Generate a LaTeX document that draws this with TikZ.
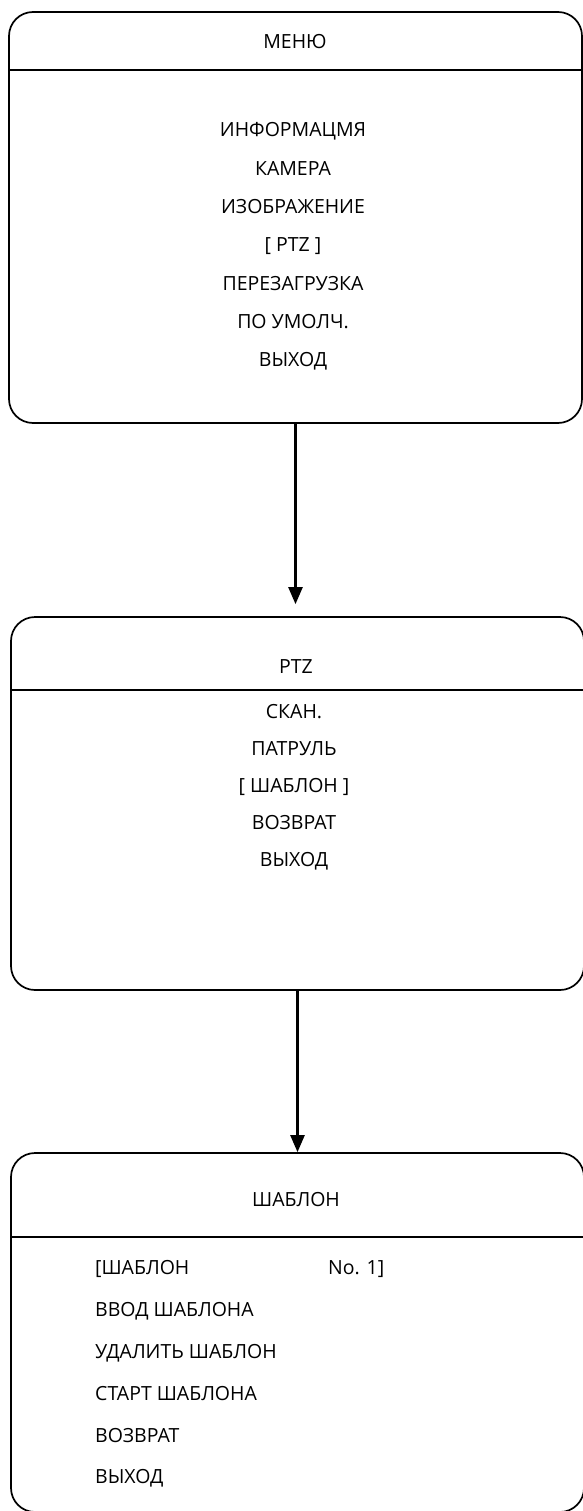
\documentclass[tikz,border=0pt]{standalone}
\usepackage{fontspec}
\setmainfont{Open Sans}
\usepackage{tikz}
\usetikzlibrary{arrows.meta,positioning}
\tikzset{
  frame/.style={draw,line width=1.7pt,rounded corners=24pt,inner sep=0pt},
  divider/.style={draw,line width=1.7pt},
  label/.style={font=\fontsize{19.5}{23}\selectfont,inner sep=0pt,text height=13.8pt,text depth=0pt},
  flow/.style={-{Triangle[length=17pt,width=14pt]},line width=2.4pt}
}

\begin{document}
\begin{tikzpicture}[x=1pt,y=-1pt]
  \useasboundingbox (0,0) rectangle (582,1511);
  % three menu screens
  \node[frame,minimum width=573pt,minimum height=411pt] (menu) at (295.5,217.5) {};
  \node[frame,minimum width=573pt,minimum height=373pt] (ptz) at (297.5,803.5) {};
  \node[frame,minimum width=573pt,minimum height=359pt] (pattern) at (297.5,1332.5) {};
  \draw[divider] (menu.west |- 0,70) -- (menu.east |- 0,70);
  \draw[divider] (ptz.west |- 0,690) -- (ptz.east |- 0,690);
  \draw[divider] (pattern.west |- 0,1237) -- (pattern.east |- 0,1237);
  % titles
  \node[label] (menuhead) at (295,42) {МЕНЮ};
  \node[label] (ptzhead) at (296,667) {PTZ};
  \node[label] (patternhead) at (296,1200) {ШАБЛОН};
  % entries
  \foreach \txt [count=\i from 0] in {ИНФОРМАЦМЯ,КАМЕРА,ИЗОБРАЖЕНИЕ,[ PTZ ],ПЕРЕЗАГРУЗКА,ПО УМОЛЧ.,ВЫХОД}
    \node[label] (menu\i) at (293,{130+38.3*\i}) {\txt};
  \foreach \txt [count=\i from 0] in {СКАН.,ПАТРУЛЬ,[ ШАБЛОН ],ВОЗВРАТ,ВЫХОД}
    \node[label] (ptz\i) at (294,{712+37*\i}) {\txt};
  \foreach \txt [count=\i from 0] in {[ШАБЛОН,ВВОД ШАБЛОНА,УДАЛИТЬ ШАБЛОН,СТАРТ ШАБЛОНА,ВОЗВРАТ,ВЫХОД}
    \node[label,anchor=west] (pattern\i) at (95,{1268+41.8*\i}) {\txt};
  \node[label,anchor=west] (patternno) at (328,1268) {No. 1]};
  % links
  \draw[flow,shorten >=12pt] (menu.south) -- (menu.south |- ptz.north);
  \draw[flow] (ptz.south) -- (ptz.south |- pattern.north);
\end{tikzpicture}
\end{document}
